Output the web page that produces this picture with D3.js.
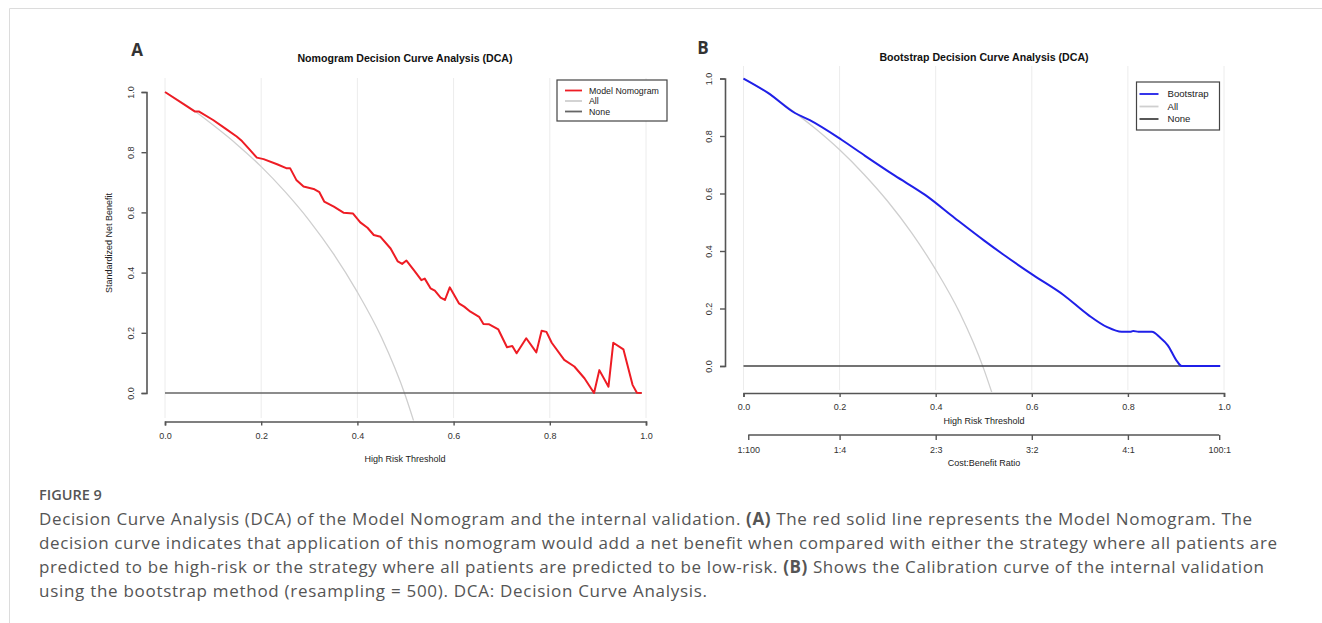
<!DOCTYPE html>
<html>
<head>
<meta charset="utf-8">
<script src="https://cdn.jsdelivr.net/npm/d3@7"></script>
<style>
  body { margin: 0; background: #fff; }
  svg { display: block; font-family: "Liberation Sans", Arial, sans-serif; }
  .cap { font-family: "Open Sans", "Noto Sans", sans-serif; fill: #555; }
</style>
</head>
<body>
<svg width="1322" height="623"></svg>
<script>
// ---- data ----
var thresholdTicks = [0, 0.2, 0.4, 0.6, 0.8, 1.0];
var benefitTicks = [0, 0.2, 0.4, 0.6, 0.8, 1.0];

// treat-all curve (same in both panels)
var allX = [0, 0.05, 0.1, 0.15, 0.2, 0.25, 0.3, 0.35, 0.4, 0.45, 0.5, 0.517];
var allY = [1.0, 0.95, 0.89, 0.825, 0.752, 0.668, 0.573, 0.463, 0.335, 0.185, -0.01, -0.093];

// panel A: model nomogram
var nomoX = [0, 0.0625, 0.071, 0.10, 0.125, 0.149, 0.16, 0.177, 0.191, 0.205, 0.233, 0.252, 0.26, 0.273, 0.288, 0.309, 0.321, 0.331, 0.351, 0.371, 0.391, 0.406, 0.421, 0.434, 0.448, 0.469, 0.484, 0.493, 0.502, 0.517, 0.533, 0.54, 0.552, 0.561, 0.573, 0.582, 0.592, 0.611, 0.622, 0.635, 0.653, 0.662, 0.674, 0.693, 0.711, 0.722, 0.731, 0.751, 0.772, 0.783, 0.793, 0.804, 0.83, 0.851, 0.872, 0.892, 0.903, 0.922, 0.932, 0.953, 0.972, 0.981, 0.991];
var nomoY = [1.0, 0.935, 0.935, 0.907, 0.879, 0.852, 0.837, 0.807, 0.782, 0.777, 0.76, 0.747, 0.747, 0.708, 0.686, 0.678, 0.667, 0.636, 0.619, 0.599, 0.596, 0.567, 0.549, 0.525, 0.519, 0.48, 0.437, 0.429, 0.44, 0.409, 0.375, 0.38, 0.348, 0.34, 0.317, 0.309, 0.351, 0.298, 0.287, 0.27, 0.253, 0.229, 0.228, 0.211, 0.152, 0.156, 0.132, 0.182, 0.135, 0.207, 0.203, 0.167, 0.11, 0.088, 0.049, 0.0, 0.076, 0.021, 0.167, 0.145, 0.027, 0.001, 0];

// panel B: bootstrap
var bootX = [0, 0.051, 0.107, 0.138, 0.204, 0.253, 0.315, 0.378, 0.44, 0.501, 0.537, 0.603, 0.666, 0.718, 0.756, 0.787, 0.805, 0.811, 0.822, 0.85, 0.867, 0.883, 0.902, 0.912, 0.992];
var bootY = [1.0, 0.95, 0.88, 0.855, 0.787, 0.731, 0.662, 0.595, 0.514, 0.436, 0.392, 0.316, 0.247, 0.177, 0.136, 0.119, 0.119, 0.122, 0.119, 0.119, 0.099, 0.072, 0.017, 0, 0];

var costTicks = [0.0099, 0.2, 0.4, 0.6, 0.8, 0.99];
var costLabels = ["1:100", "1:4", "2:3", "3:2", "4:1", "100:1"];

var svg = d3.select("svg");
svg.append("rect").attr("width", 1322).attr("height", 623).attr("fill", "#fff");
// page frame
svg.append("path").attr("d", "M9.5,623V8.5H1322").attr("fill", "none").attr("stroke", "#dcdcdc");

function zip(xs, ys) { return xs.map(function(d, i) { return [d, ys[i]]; }); }

function panel(o) {
  var x = d3.scaleLinear().domain([0, 1]).range(o.xr),
      y = d3.scaleLinear().domain([0, 1]).range(o.yr),
      g = svg.append("g");

  // faint vertical grid
  g.selectAll(".grid").data(thresholdTicks).enter().append("line")
    .attr("x1", x).attr("x2", x).attr("y1", o.gridTop).attr("y2", o.gridBot)
    .attr("stroke", "#ececec").attr("stroke-width", 1);

  // axes
  var xa = g.append("g").attr("transform", "translate(0," + o.xAxisY + ")")
    .call(d3.axisBottom(x).tickValues(thresholdTicks).tickSizeOuter(0).tickSize(4).tickPadding(7).tickFormat(d3.format(".1f")));
  var ya = g.append("g").attr("transform", "translate(" + o.yAxisX + ",0)")
    .call(d3.axisLeft(y).tickValues(benefitTicks).tickSizeOuter(0).tickSize(5).tickFormat(d3.format(".1f")));
  [xa, ya].forEach(function(a) {
    a.select(".domain").attr("stroke", "#555").attr("stroke-width", 1.6);
    a.selectAll(".tick line").attr("stroke", "#555").attr("stroke-width", 1.4);
    a.selectAll("text").attr("fill", "#333").attr("font-size", 9).attr("font-family", "Liberation Sans, Arial");
  });
  ya.selectAll("text").attr("x", null).attr("dy", null).attr("text-anchor", "middle")
    .attr("transform", "translate(-13,0) rotate(-90)");

  // treat-all and none
  var clip = "clip" + o.id;
  svg.append("clipPath").attr("id", clip).append("rect")
    .attr("x", o.xr[0] - 10).attr("y", o.gridTop).attr("width", o.xr[1] - o.xr[0] + 20).attr("height", o.xAxisY - 1 - o.gridTop);
  var line = d3.line().curve(d3.curveMonotoneX).x(function(d) { return x(d[0]); }).y(function(d) { return y(d[1]); });
  var poly = d3.line().x(function(d) { return x(d[0]); }).y(function(d) { return y(d[1]); });
  g.append("path").datum(zip(allX, allY)).attr("d", line).attr("clip-path", "url(#" + clip + ")")
    .attr("fill", "none").attr("stroke", "#cfcfcf").attr("stroke-width", 1.3);
  g.append("path").datum([[0, 0], [o.noneEnd, 0]]).attr("d", poly)
    .attr("fill", "none").attr("stroke", o.noneCol).attr("stroke-width", 1.6);
  g.append("path").datum(zip(o.xs, o.ys)).attr("d", o.smooth ? line : poly)
    .attr("fill", "none").attr("stroke", o.col).attr("stroke-width", 2).attr("stroke-linejoin", "round");

  // titles
  g.append("text").attr("x", o.tag[0]).attr("y", o.tag[1]).attr("text-anchor", "middle")
    .attr("font-family", "Open Sans, Noto Sans, sans-serif").attr("font-weight", "bold").attr("font-size", 17).attr("fill", "#333").text(o.id);
  g.append("text").attr("x", o.titleX).attr("y", o.titleY).attr("text-anchor", "middle")
    .attr("font-weight", "bold").attr("font-size", 10.6).attr("fill", "#111").text(o.title);
  g.append("text").attr("x", o.titleX).attr("y", o.xlabY).attr("text-anchor", "middle")
    .attr("font-size", 9).attr("fill", "#222").text("High Risk Threshold");

  // legend
  var L = o.legend, lg = g.append("g");
  lg.append("rect").attr("x", L.x).attr("y", L.y).attr("width", L.w).attr("height", L.h)
    .attr("fill", "#fff").attr("stroke", "#444").attr("stroke-width", 1.2);
  var items = [[o.name, o.col], ["All", "#cfcfcf"], ["None", o.noneCol]];
  var row = lg.selectAll(".it").data(items).enter().append("g")
    .attr("transform", function(d, i) { return "translate(0," + (L.y0 + i * L.dy) + ")"; });
  row.append("line").attr("x1", L.x + L.l0).attr("x2", L.x + L.l1)
    .attr("stroke", function(d) { return d[1]; }).attr("stroke-width", 1.8);
  row.append("text").attr("x", L.x + L.tx).attr("dy", "0.35em").attr("font-size", L.fs).attr("fill", "#222")
    .text(function(d) { return d[0]; });

  return { x: x, y: y, g: g };
}

var A = panel({
  id: "A", xr: [165, 646], yr: [393, 92], xAxisY: 421.5, yAxisX: 146.5, gridTop: 78, gridBot: 418,
  xs: nomoX, ys: nomoY, col: "#ee1c24", name: "Model Nomogram", noneCol: "#666", noneEnd: 0.991, smooth: false,
  tag: [137, 56], title: "Nomogram Decision Curve Analysis (DCA)", titleX: 405, titleY: 62, xlabY: 462,
  legend: { x: 557, y: 80, w: 110, h: 41, y0: 90.5, dy: 10.5, l0: 8, l1: 25, tx: 32, fs: 8.8 }
});
A.g.append("text").attr("transform", "translate(112," + ((93 + 393) / 2) + ") rotate(-90)")
  .attr("text-anchor", "middle").attr("font-size", 9).attr("fill", "#222").text("Standardized Net Benefit");

var B = panel({
  id: "B", xr: [743.5, 1224], yr: [366, 78.5], xAxisY: 393, yAxisX: 725, gridTop: 66, gridBot: 390,
  xs: bootX, ys: bootY, col: "#1f1fe8", name: "Bootstrap", noneCol: "#444", noneEnd: 0.992, smooth: true,
  tag: [703, 54], title: "Bootstrap Decision Curve Analysis (DCA)", titleX: 984, titleY: 61, xlabY: 424,
  legend: { x: 1136.5, y: 82, w: 83, h: 48, y0: 94, dy: 12.5, l0: 3, l1: 22, tx: 31, fs: 9.6 }
});
// clipped y label in panel B
svg.append("clipPath").attr("id", "clipYB").append("rect").attr("x", 686).attr("y", 150).attr("width", 10).attr("height", 150);
B.g.append("text").attr("clip-path", "url(#clipYB)")
  .attr("transform", "translate(692," + ((78.5 + 366) / 2) + ") rotate(-90)")
  .attr("text-anchor", "middle").attr("font-size", 9).attr("fill", "#222").text("Standardized Net Benefit");

// cost:benefit axis
var cb = B.g.append("g").attr("transform", "translate(0,435)")
  .call(d3.axisBottom(B.x).tickValues(costTicks).tickSize(5).tickPadding(7)
    .tickFormat(function(d, i) { return costLabels[i]; }));
cb.select(".domain").remove();
cb.append("line").attr("x1", B.x(costTicks[0])).attr("x2", B.x(costTicks[costTicks.length - 1]))
  .attr("stroke", "#555").attr("stroke-width", 1.6);
cb.selectAll(".tick line").attr("stroke", "#555").attr("stroke-width", 1.4);
cb.selectAll("text").attr("fill", "#333").attr("font-size", 9).attr("font-family", "Liberation Sans, Arial");
B.g.append("text").attr("x", 984).attr("y", 466).attr("text-anchor", "middle")
  .attr("font-size", 9).attr("fill", "#222").text("Cost:Benefit Ratio");

// caption
svg.append("text").attr("class", "cap").attr("x", 39).attr("y", 500)
  .attr("font-size", 14.5).attr("font-weight", 600).text("FIGURE 9");
var capLines = [
  [["Decision Curve Analysis (DCA) of the Model Nomogram and the internal validation. ", 0], ["(A)", 1], [" The red solid line represents the Model Nomogram. The", 0]],
  [["decision curve indicates that application of this nomogram would add a net benefit when compared with either the strategy where all patients are", 0]],
  [["predicted to be high-risk or the strategy where all patients are predicted to be low-risk. ", 0], ["(B)", 1], [" Shows the Calibration curve of the internal validation", 0]],
  [["using the bootstrap method (resampling = 500). DCA: Decision Curve Analysis.", 0]]
];
var capWidths = [1213, 1238, 1225, 668];
capLines.forEach(function(parts, i) {
  var t = svg.append("text").attr("class", "cap").attr("x", 39).attr("y", 525 + i * 24).attr("font-size", 17)
    .attr("textLength", capWidths[i]).attr("lengthAdjust", "spacing");
  parts.forEach(function(p) {
    t.append("tspan").attr("font-weight", p[1] ? 700 : 400).text(p[0]);
  });
});
</script>
</body>
</html>
